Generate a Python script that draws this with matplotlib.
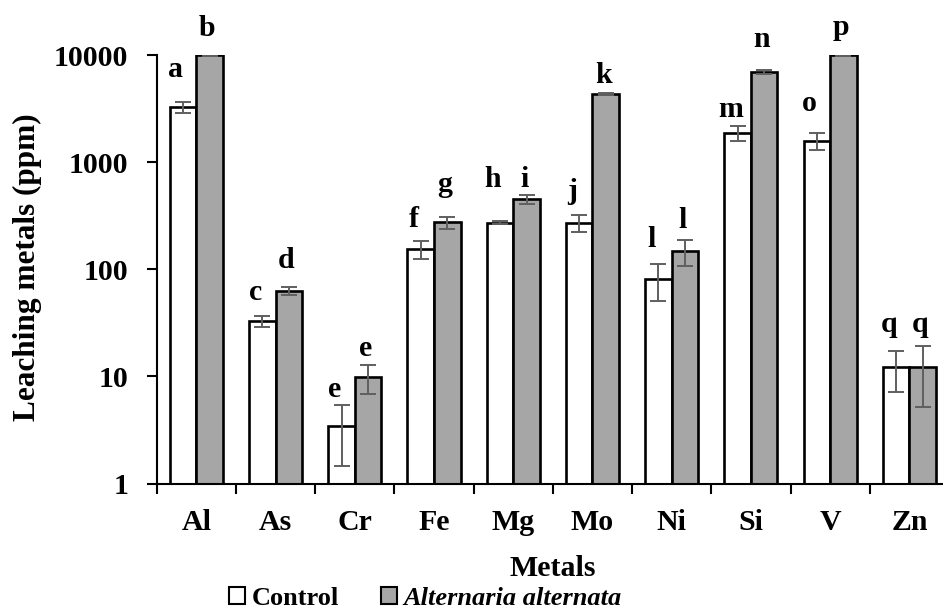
import numpy as np
import matplotlib
matplotlib.use('Agg')
import matplotlib.pyplot as plt
from matplotlib.patches import Patch
from matplotlib.ticker import FixedLocator, NullFormatter, FuncFormatter

metals = ['Al', 'As', 'Cr', 'Fe', 'Mg', 'Mo', 'Ni', 'Si', 'V', 'Zn']

control = [3250, 33, 3.45, 155, 272, 272, 81, 1880, 1590, 12.2]
control_err = [400, 4, 2.0, 30, 8, 50, 30, 300, 300, 5]
alternaria = [9900, 63, 9.8, 275, 450, 4330, 148, 6950, 9900, 12.2]
alternaria_err = [150, 5, 3.0, 35, 44, 100, 40, 300, 150, 7]

# significance letters and the height of their baseline (ppm)
control_letters = ['a', 'c', 'e', 'f', 'h', 'j', 'l', 'm', 'o', 'q']
control_letter_y = [6240, 51.7, 6.42, 248, 586, 449, 161, 2640, 3010, 26.2]
alternaria_letters = ['b', 'd', 'e', 'g', 'i', 'k', 'l', 'n', 'p', 'q']
alternaria_letter_y = [15070, 102.8, 15.5, 521, 586, 5490, 243, 11900, 15240, 26.2]

plt.rcParams['font.family'] = ['Liberation Serif', 'DejaVu Serif']
plt.rcParams['font.weight'] = 'bold'
fs = 21.5

fig = plt.figure(figsize=(9.43, 6.09), dpi=100)
ax = fig.add_axes([156.7 / 943, 1 - 483.5 / 609, 792.3 / 943, 428.5 / 609])

x = np.arange(len(metals))
w = 0.335
errcol = '#5f5f5f'

ax.bar(x - w / 2, control, w, color='white', edgecolor='black', linewidth=1.9, zorder=2)
ax.bar(x + w / 2, alternaria, w, color='#a6a6a6', edgecolor='black', linewidth=1.9, zorder=2)
ax.errorbar(x - w / 2, control, yerr=control_err, fmt='none', ecolor=errcol,
            elinewidth=1.4, capsize=6, capthick=1.4, zorder=3)
ax.errorbar(x + w / 2, alternaria, yerr=alternaria_err, fmt='none', ecolor=errcol,
            elinewidth=1.4, capsize=6, capthick=1.4, zorder=3)

for i in range(len(metals)):
    ax.text(x[i] - w / 2 - 0.09, control_letter_y[i], control_letters[i],
            ha='center', va='baseline', fontsize=fs, fontweight='bold')
    ax.text(x[i] + w / 2 - 0.03, alternaria_letter_y[i], alternaria_letters[i],
            ha='center', va='baseline', fontsize=fs, fontweight='bold')

ax.set_yscale('log')
ax.set_ylim(1, 10000)
ax.set_xlim(-0.5, len(metals) - 0.5)
ax.yaxis.set_major_locator(FixedLocator([1, 10, 100, 1000, 10000]))
ax.yaxis.set_minor_locator(FixedLocator([]))
ax.yaxis.set_major_formatter(FuncFormatter(lambda v, p: '%d' % v))

# ticks between categories, labels at the centres
ax.xaxis.set_major_locator(FixedLocator(np.arange(-0.5, len(metals), 1.0)))
ax.xaxis.set_major_formatter(NullFormatter())
ax.xaxis.set_minor_locator(FixedLocator(x))
ax.set_xticklabels(metals, minor=True)
ax.tick_params(axis='x', which='minor', length=0, pad=18, labelsize=fs)
ax.tick_params(axis='x', which='major', length=7, width=1.5, direction='out')
ax.tick_params(axis='y', which='major', length=7, width=1.5, direction='out',
               pad=13.5, labelsize=fs)

for s in ['top', 'right']:
    ax.spines[s].set_visible(False)
for s in ['left', 'bottom']:
    ax.spines[s].set_linewidth(1.5)

ax.set_ylabel('Leaching metals (ppm)', fontsize=22.5, fontweight='bold')
ax.yaxis.set_label_coords(-0.145, 0.505)
ax.set_xlabel('Metals', fontsize=fs, fontweight='bold')
ax.xaxis.set_label_coords(0.5, -0.166)

handles = [Patch(facecolor='white', edgecolor='black', linewidth=1.5),
           Patch(facecolor='#a6a6a6', edgecolor='black', linewidth=1.5)]
leg = fig.legend(handles, ['Control', 'Alternaria alternata'], loc='center',
                 bbox_to_anchor=(0.451, 0.017), ncol=2, frameon=False,
                 prop={'size': 19, 'weight': 'bold'}, handlelength=0.6,
                 handleheight=0.6, handletextpad=0.25, columnspacing=1.6)
leg.get_texts()[1].set_fontstyle('italic')

fig.savefig('out.png', dpi=100)
